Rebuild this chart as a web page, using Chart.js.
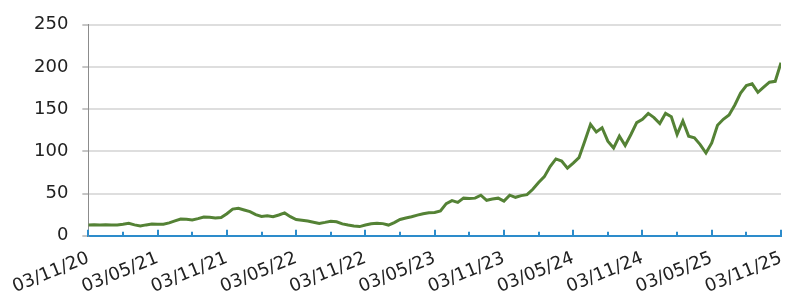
<!DOCTYPE html>
<html lang="en">
<head>
    <meta charset="UTF-8">
    <title>Share price</title>
    <script src="https://cdn.jsdelivr.net/npm/chart.js"></script>
    <style>
        body {
            margin: 0;
            padding: 0;
            background-color: #ffffff;
            overflow: hidden;
        }

        .chart-box {
            width: 785px;
            height: 298px;
        }
    </style>
</head>
<body>
    <div class="chart-box">
        <canvas id="priceChart" width="785" height="298"></canvas>
    </div>

    <script>
        // tick labels, one every 6 months (12 half-month steps)
        const tickLabels = ['03/11/20', '03/05/21', '03/11/21', '03/05/22', '03/11/22', '03/05/23',
            '03/11/23', '03/05/24', '03/11/24', '03/05/25', '03/11/25'];

        const prices = [
            12.8, 12.9, 12.8, 12.9, 12.7, 12.8, 13.6, 14.6, 12.8, 11.6,
            12.8, 13.8, 13.6, 13.5, 15.2, 17.5, 19.8, 19.5, 18.6, 20.2,
            22.2, 21.8, 21.0, 21.6, 26.0, 31.5, 32.5, 30.5, 28.5, 25.0,
            22.8, 23.5, 22.4, 24.5, 27.0, 22.5, 19.2, 18.2, 17.3, 16.0,
            14.6, 15.8, 17.2, 16.5, 14.0, 12.6, 11.6, 10.8, 12.6, 14.2,
            14.8, 14.3, 12.6, 15.5, 19.2, 21.0, 22.4, 24.4, 26.0, 27.2,
            27.5, 29.4, 38.0, 41.5, 39.5, 44.5, 44.0, 44.5, 48.0, 42.0,
            43.5, 44.5, 41.0, 48.0, 45.5, 47.5, 48.7, 55.0, 63.0, 70.0,
            82.0, 91.0, 88.5, 80.0, 86.0, 92.5, 112, 132, 123, 128,
            112, 104, 118, 107, 120, 134, 138, 145, 140, 133,
            145, 141, 120, 136, 118, 116, 108, 98, 110, 131,
            138, 143, 155, 169, 178, 180, 170, 176, 182, 183,
            205
        ];

        const points = prices.map((p, i) => ({ x: i, y: p }));

        const fontFamily = "'DejaVu Sans', sans-serif";

        // small ticks on the date axis, pointing up into the plot
        const dateTicks = {
            id: 'dateTicks',
            afterDraw(chart) {
                const ctx = chart.ctx;
                const xs = chart.scales.x;
                const bottom = xs.top;
                ctx.save();
                ctx.strokeStyle = '#2d8ccb';
                ctx.lineWidth = 2;
                for (let v = 0; v <= 120; v += 6) {
                    const px = Math.round(xs.getPixelForValue(v));
                    const len = v % 12 === 0 ? 6 : 4;
                    ctx.beginPath();
                    ctx.moveTo(px, bottom);
                    ctx.lineTo(px, bottom - len);
                    ctx.stroke();
                }
                ctx.restore();
            }
        };

        new Chart(document.getElementById('priceChart'), {
            type: 'line',
            data: {
                datasets: [{
                    data: points,
                    borderColor: '#548235',
                    borderWidth: 3,
                    pointRadius: 0,
                    tension: 0,
                    fill: false
                }]
            },
            options: {
                responsive: false,
                animation: false,
                layout: {
                    padding: { top: 10, right: 4, left: 20, bottom: -12 }
                },
                plugins: {
                    legend: { display: false },
                    tooltip: { enabled: false }
                },
                scales: {
                    x: {
                        type: 'linear',
                        min: 0,
                        max: 120,
                        grid: { display: false, drawTicks: false },
                        border: { display: true, color: '#2d8ccb', width: 2 },
                        afterFit: (scale) => {
                            // labels are anchored at their right end, so no room is needed past the last tick
                            scale.paddingRight = 0;
                        },
                        ticks: {
                            stepSize: 12,
                            autoSkip: false,
                            minRotation: 22,
                            maxRotation: 22,
                            padding: 12,
                            color: '#222222',
                            font: { family: fontFamily, size: 18 },
                            callback: (v) => tickLabels[v / 12] || ''
                        }
                    },
                    y: {
                        min: 0,
                        max: 250,
                        grid: {
                            color: '#dedede',
                            lineWidth: 2,
                            tickColor: '#8c8c8c',
                            tickLength: 6,
                            tickWidth: 1
                        },
                        border: { display: true, color: '#8c8c8c', width: 1 },
                        ticks: {
                            stepSize: 50,
                            padding: 14,
                            color: '#222222',
                            font: { family: fontFamily, size: 18 }
                        }
                    }
                }
            },
            plugins: [dateTicks]
        });
    </script>
</body>
</html>
